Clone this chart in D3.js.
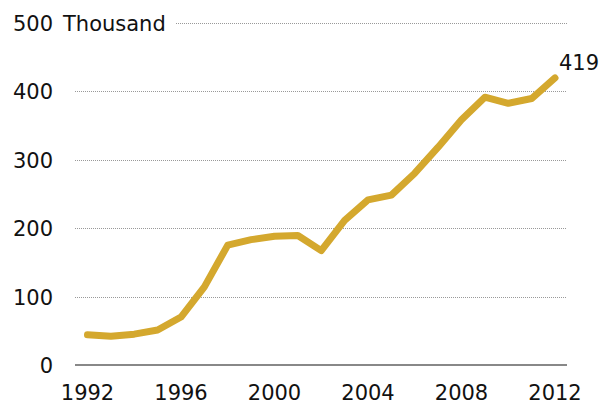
<!DOCTYPE html>
<html>
<head>
<meta charset="utf-8">
<script src="https://cdn.jsdelivr.net/npm/d3@7"></script>
<style>
  body { margin: 0; background: #fff; }
  text { font-family: "DejaVu Sans", sans-serif; fill: #111; }
</style>
</head>
<body>
<div id="chart"></div>
<script>
// data (thousands)
var years = [1992, 1993, 1994, 1995, 1996, 1997, 1998, 1999, 2000, 2001, 2002,
             2003, 2004, 2005, 2006, 2007, 2008, 2009, 2010, 2011, 2012];
var values = [44, 42, 45, 51, 70, 114, 175, 183, 188, 189, 167,
              211, 241, 248, 280, 318, 358, 391, 382, 389, 419];
var yTicks = [0, 100, 200, 300, 400, 500];
var xTicks = [1992, 1996, 2000, 2004, 2008, 2012];

var width = 611, height = 405;
var fontSize = "21px";

var svg = d3.select("#chart")
    .append("svg")
    .attr("width", width)
    .attr("height", height);

// scales
var x = d3.scaleLinear()
    .domain([1992, 2012])
    .range([87.5, 555]);

var y = d3.scaleLinear()
    .domain([0, 500])
    .range([365, 22.5]);

var gridLeft = 75, gridRight = 567;

// gridlines
svg.selectAll("grid")
    .data(yTicks.filter(function (d) { return d > 0; }))
    .enter()
    .append("line")
    .attr("x1", function (d) { return d == 500 ? 176 : gridLeft; })
    .attr("x2", gridRight)
    .attr("y1", function (d) { return Math.round(y(d)) + 0.5; })
    .attr("y2", function (d) { return Math.round(y(d)) + 0.5; })
    .attr("stroke", "#999")
    .attr("stroke-width", 1)
    .attr("stroke-dasharray", "1,1");

// baseline
svg.append("line")
    .attr("x1", gridLeft)
    .attr("x2", gridRight)
    .attr("y1", y(0))
    .attr("y2", y(0))
    .attr("stroke", "#888")
    .attr("stroke-width", 2);

// y labels
svg.selectAll("ylab")
    .data(yTicks)
    .enter()
    .append("text")
    .attr("x", 53)
    .attr("y", function (d) { return y(d) + 8; })
    .attr("text-anchor", "end")
    .style("font-size", fontSize)
    .text(function (d) { return d; });

svg.append("text")
    .attr("x", 63)
    .attr("y", y(500) + 8)
    .style("font-size", fontSize)
    .text("Thousand");

// x labels
svg.selectAll("xlab")
    .data(xTicks)
    .enter()
    .append("text")
    .attr("x", function (d) { return x(d); })
    .attr("y", 400)
    .attr("text-anchor", "middle")
    .style("font-size", fontSize)
    .text(function (d) { return d; });

// line
var line = d3.line()
    .x(function (d, i) { return x(years[i]); })
    .y(function (d) { return y(d); });

svg.append("path")
    .datum(values)
    .attr("d", line)
    .attr("fill", "none")
    .attr("stroke", "#d4a82e")
    .attr("stroke-width", 7)
    .attr("stroke-linejoin", "round")
    .attr("stroke-linecap", "round");

// end label
svg.append("text")
    .attr("x", x(2012) + 4)
    .attr("y", 70)
    .style("font-size", fontSize)
    .text(values[values.length - 1]);
</script>
</body>
</html>
